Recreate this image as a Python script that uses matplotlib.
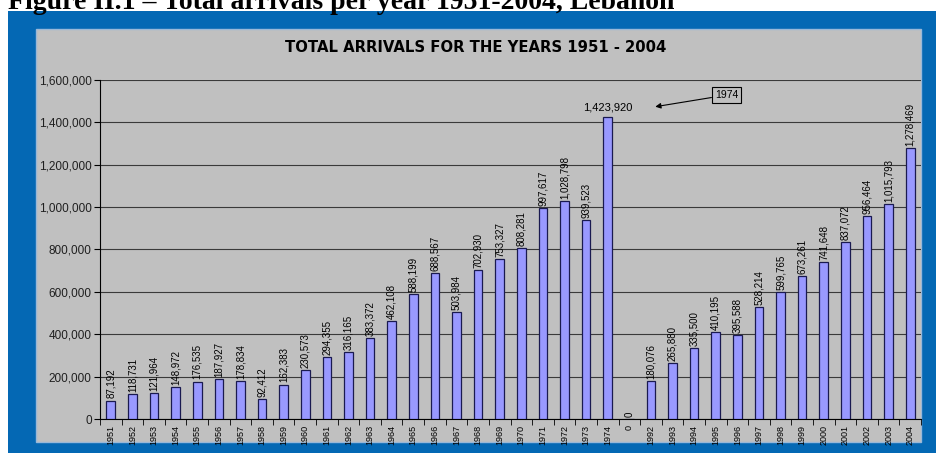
import matplotlib.pyplot as plt
from matplotlib.patches import Rectangle
from matplotlib.ticker import FuncFormatter, MultipleLocator
import numpy as np

# --- DATA ---
years = ["1951", "1952", "1953", "1954", "1955", "1956", "1957", "1958", "1959", "1960",
         "1961", "1962", "1963", "1964", "1965", "1966", "1967", "1968", "1969", "1970",
         "1971", "1972", "1973", "1974", "0", "1992", "1993", "1994", "1995", "1996",
         "1997", "1998", "1999", "2000", "2001", "2002", "2003", "2004"]
arrivals = [87192, 118731, 121964, 148972, 176535, 187927, 178834, 92412, 162383, 230573,
            294355, 316165, 383372, 462108, 588199, 688567, 503984, 702930, 753327, 808281,
            997617, 1028798, 939523, 1423920, 0, 180076, 265880, 335500, 410195, 395588,
            528214, 599765, 673261, 741648, 837072, 956464, 1015793, 1278469]
peak_year = "1974"

W, H = 936, 453
fig = plt.figure(figsize=(W / 100, H / 100), dpi=100)
fig.patch.set_facecolor('white')

def px(x0, y0, x1, y1):
    # pixel box (top-left origin) -> figure fraction rect
    return [x0 / W, 1 - y1 / H, (x1 - x0) / W, (y1 - y0) / H]

# slide frame + chart panel
fig.patches.append(Rectangle((8 / W, 0), 1 - 8 / W, 1 - 11 / H, transform=fig.transFigure,
                             facecolor='#0468B4', edgecolor='none', zorder=0))
fig.patches.append(Rectangle((36 / W, 1 - 442 / H), (921 - 36) / W, (442 - 29) / H,
                             transform=fig.transFigure, facecolor='#C0C0C0',
                             edgecolor='#9AB8D8', lw=1.0, zorder=0.5))

# document caption, clipped at top like the source scan
fig.text(8 / W, 1 - 9 / H, "Figure II.1 \u2013 Total arrivals per year 1951-2004, Lebanon",
         family='Liberation Serif', weight='bold', fontsize=20, ha='left', va='baseline')

fig.text(476 / W, 1 - 47 / H, "TOTAL ARRIVALS FOR THE YEARS 1951 - 2004",
         family='DejaVu Sans', weight='bold', fontsize=10.7, ha='center', va='center', zorder=3)

ax = fig.add_axes(px(100, 80, 921, 419))
ax.set_zorder(2)
ax.set_facecolor('#C0C0C0')
x = np.arange(len(years))
ax.bar(x, arrivals, width=0.4, color='#9999FF', edgecolor='#1A1A50', lw=0.9, zorder=3)

ax.set_xlim(-0.5, len(years) - 0.5)
ax.set_ylim(0, 1600000)
ax.yaxis.set_major_locator(MultipleLocator(200000))
ax.yaxis.set_major_formatter(FuncFormatter(lambda v, p: f"{int(v):,}"))
ax.grid(axis='y', color='#3A3A3A', lw=0.8, zorder=1)
for s in ['top', 'right']:
    ax.spines[s].set_visible(False)
ax.spines['left'].set_color('black')
ax.spines['bottom'].set_color('black')

ax.set_xticks(x)
ax.set_xticklabels(years, rotation=90, fontsize=6.5, family='Liberation Sans')
ax.set_xticks(np.arange(len(years) + 1) - 0.5, minor=True)
ax.tick_params(axis='x', which='major', length=0, pad=4)
ax.tick_params(axis='x', which='minor', length=4, direction='out')
ax.tick_params(axis='y', length=4, labelsize=8.5, colors='black', pad=2)
for t in ax.get_yticklabels():
    t.set_family('Liberation Sans')
    t.set_color('#202020')

# value labels
for xi, yr, v in zip(x, years, arrivals):
    if yr == peak_year:
        ax.text(xi, v + 22000, f"{v:,}", ha='center', va='bottom', fontsize=8,
                family='Liberation Sans', zorder=4)
    else:
        ax.text(xi, v + 10000, f"{v:,}", rotation=90, ha='center', va='bottom', fontsize=7,
                family='Liberation Sans', zorder=4)

pk = years.index(peak_year)
ax.annotate(peak_year, xy=(pk + 2.2, arrivals[pk] + 50000), xytext=(pk + 5.5, arrivals[pk] + 105000),
            fontsize=7.5, family='Liberation Sans', ha='center', va='center',
            bbox=dict(boxstyle='square,pad=0.3', fc='#C0C0C0', ec='black', lw=0.8),
            arrowprops=dict(arrowstyle='-|>', color='black', lw=0.8, mutation_scale=8,
                            shrinkA=0, shrinkB=0))

fig.savefig('out.png', dpi=100)
